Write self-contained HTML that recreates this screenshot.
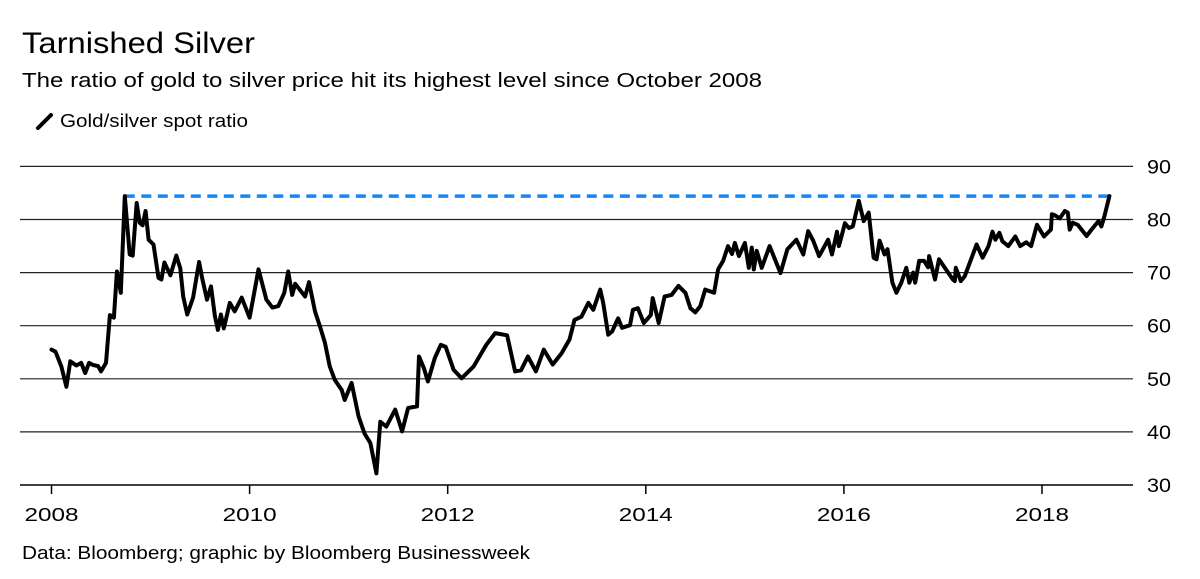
<!DOCTYPE html>
<html><head><meta charset="utf-8"><style>
body{margin:0;background:#fff;width:1200px;height:579px;overflow:hidden;font-family:"Liberation Sans",Arial,sans-serif;}
svg{position:absolute;left:0;top:0}
</style></head><body>
<svg id="c" width="1200" height="579">
<text x="22" y="53" font-size="30" textLength="233" lengthAdjust="spacingAndGlyphs" fill="#000">Tarnished Silver</text>
<text x="22" y="87" font-size="20" textLength="740" lengthAdjust="spacingAndGlyphs" fill="#000">The ratio of gold to silver price hit its highest level since October 2008</text>
<g>
<line x1="38" y1="128" x2="51" y2="115" stroke="#000" stroke-width="4" stroke-linecap="round"/>
<text x="60" y="127" font-size="18" textLength="188" lengthAdjust="spacingAndGlyphs">Gold/silver spot ratio</text>
</g>
<g id="grid"></g>
<g id="xax"></g>
<g id="yax"></g>
<g id="plot"></g>
<text x="22" y="559" font-size="18" textLength="508" lengthAdjust="spacingAndGlyphs">Data: Bloomberg; graphic by Bloomberg Businessweek</text>
</svg>
<script>
const yTicks=[30,40,50,60,70,80,90];
const xTicks=[2008,2010,2012,2014,2016,2018];
const peakValue=84.4;
const peakStart=2008.74;
const years=[2008.0,2008.04,2008.1,2008.15,2008.19,2008.25,2008.3,2008.34,2008.38,2008.42,2008.47,2008.5,2008.55,2008.59,2008.63,2008.66,2008.7,2008.74,2008.79,2008.82,2008.86,2008.89,2008.92,2008.95,2008.98,2009.03,2009.08,2009.11,2009.14,2009.2,2009.26,2009.3,2009.33,2009.37,2009.43,2009.49,2009.52,2009.57,2009.61,2009.65,2009.68,2009.71,2009.74,2009.8,2009.85,2009.92,2010.0,2010.09,2010.17,2010.23,2010.29,2010.35,2010.39,2010.43,2010.46,2010.56,2010.6,2010.66,2010.71,2010.76,2010.81,2010.86,2010.93,2010.96,2011.03,2011.1,2011.16,2011.22,2011.28,2011.32,2011.38,2011.47,2011.54,2011.6,2011.69,2011.71,2011.76,2011.8,2011.87,2011.93,2011.98,2012.06,2012.14,2012.26,2012.39,2012.48,2012.6,2012.68,2012.74,2012.81,2012.89,2012.97,2013.06,2013.15,2013.23,2013.28,2013.35,2013.42,2013.47,2013.54,2013.57,2013.62,2013.66,2013.72,2013.76,2013.84,2013.87,2013.92,2013.98,2014.05,2014.07,2014.13,2014.19,2014.26,2014.33,2014.4,2014.45,2014.5,2014.55,2014.6,2014.69,2014.73,2014.78,2014.83,2014.87,2014.9,2014.94,2015.0,2015.04,2015.07,2015.09,2015.12,2015.17,2015.25,2015.36,2015.43,2015.52,2015.59,2015.64,2015.69,2015.75,2015.84,2015.88,2015.93,2015.95,2015.98,2016.01,2016.05,2016.09,2016.15,2016.2,2016.25,2016.3,2016.33,2016.36,2016.41,2016.44,2016.49,2016.53,2016.58,2016.63,2016.66,2016.7,2016.72,2016.76,2016.81,2016.85,2016.86,2016.92,2016.96,2017.03,2017.1,2017.12,2017.13,2017.18,2017.22,2017.34,2017.4,2017.46,2017.5,2017.53,2017.57,2017.6,2017.66,2017.73,2017.78,2017.84,2017.89,2017.95,2018.02,2018.09,2018.1,2018.13,2018.18,2018.23,2018.26,2018.28,2018.31,2018.36,2018.45,2018.5,2018.57,2018.6,2018.63,2018.68];
const values=[55.5,55.1,52.3,48.5,53.3,52.5,53.0,51.1,53.0,52.6,52.4,51.4,53.0,62.0,61.5,70.2,66.2,84.4,73.4,73.2,83.1,79.4,78.9,81.6,76.2,75.3,69.0,68.7,71.9,69.5,73.2,70.8,65.5,62.1,65.3,72.0,69.0,64.9,67.4,61.8,59.2,62.1,59.5,64.3,62.7,65.3,61.5,70.6,64.9,63.4,63.7,66.2,70.2,65.8,67.9,65.5,68.2,62.7,59.9,56.8,52.3,49.8,47.9,46.0,49.2,42.9,39.7,37.9,32.2,41.9,41.0,44.2,40.1,44.5,44.8,54.2,52.0,49.5,53.9,56.4,56.0,51.7,50.1,52.3,56.4,58.6,58.2,51.4,51.6,54.2,51.4,55.5,52.7,54.8,57.4,61.1,61.7,64.3,63.0,66.8,64.3,58.3,58.9,61.4,59.6,60.1,63.0,63.3,60.5,62.0,65.2,60.5,65.5,65.8,67.5,66.2,63.3,62.5,63.7,66.8,66.2,70.6,72.2,75.0,73.5,75.6,73.1,75.6,70.9,74.7,70.6,74.1,70.9,75.0,69.9,74.4,76.2,73.4,77.8,76.0,73.1,76.2,73.4,77.7,75.0,77.1,79.3,78.4,78.7,83.5,79.7,81.3,72.8,72.5,76.0,73.4,74.4,68.1,66.2,68.1,70.9,68.1,70.0,68.1,72.2,72.2,71.0,73.1,68.7,72.5,70.6,68.7,68.4,70.9,68.4,69.3,75.3,72.8,75.0,77.7,76.2,77.5,75.9,75.0,76.8,75.0,75.7,75.0,79.0,76.8,78.1,81.0,80.8,80.2,81.6,81.3,78.1,79.4,79.0,76.9,78.1,79.7,78.7,80.6,84.4];

const NS='http://www.w3.org/2000/svg';
const X0=20,X1=1133;
function xs(y){return 51.5+(y-2008)*99.05;}
function ys(v){return 485-(v-30)*5.31;}
function mk(tag,attrs,parent){const e=document.createElementNS(NS,tag);for(const k in attrs)e.setAttribute(k,attrs[k]);parent.appendChild(e);return e;}
const grid=document.getElementById('grid'),yax=document.getElementById('yax'),xax=document.getElementById('xax'),plot=document.getElementById('plot');
yTicks.forEach(t=>{
  const l=mk('line',{x1:X0,x2:X1,y1:ys(t),y2:ys(t),stroke:t===30?'#000':'#222','stroke-width':t===30?1.6:1.2},grid);
  
  
  const tx=mk('text',{x:1147,y:ys(t)+7,'font-size':19,textLength:24,lengthAdjust:'spacingAndGlyphs'},yax);
  tx.textContent=t;
  
  
});
xTicks.forEach(t=>{
  const l=mk('line',{x1:xs(t),x2:xs(t),y1:485,y2:494,stroke:'#000','stroke-width':1.5},xax);
  
  
  const tx=mk('text',{x:xs(t)-27,y:521,'font-size':18,textLength:54,lengthAdjust:'spacingAndGlyphs'},xax);
  tx.textContent=t;
  
  
});
const dash=mk('line',{x1:xs(peakStart),x2:xs(years[years.length-1]),y1:ys(peakValue),y2:ys(peakValue),stroke:'#1a85f0','stroke-width':3.5,'stroke-dasharray':'10 6.5'},plot);


let d='';
years.forEach((y,i)=>{d+=(i?'L':'M')+xs(y).toFixed(1)+','+ys(values[i]).toFixed(1);});
const p=mk('path',{d:d,fill:'none',stroke:'#000','stroke-width':4,'stroke-linejoin':'round','stroke-linecap':'round'},plot);


</script>
</body></html>
